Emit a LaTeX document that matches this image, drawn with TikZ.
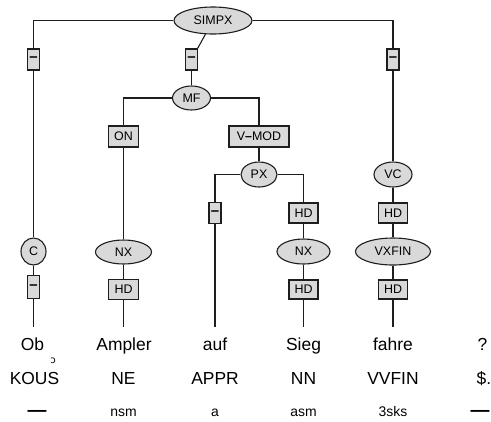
\documentclass[tikz,border=0pt]{standalone}
\usepackage{fontspec}
\setmainfont{Liberation Sans}
\newfontfamily\ipafont{DejaVu Sans}
\usetikzlibrary{shapes.geometric}
\definecolor{fillc}{HTML}{D9D9D9}
\definecolor{linec}{HTML}{1E1E1E}
\newcommand\lab{\fontsize{12.5}{14}\selectfont}
\newcommand\wrd{\fontsize{17.5}{19}\selectfont}
\newcommand\mrph{\fontsize{14}{16}\selectfont}
\newcommand\dsh{{\fontsize{15}{15}\selectfont\bfseries –}}
\tikzset{
  cat/.style={ellipse, draw=linec, fill=fillc, line width=1.1bp, inner sep=0pt, font=\lab},
  fn/.style={rectangle, draw=linec, fill=fillc, line width=1.1bp, inner sep=0pt, font=\lab},
  edge/.style={draw=linec, line width=1.1bp},
  word/.style={anchor=base, inner sep=0pt, font=\wrd},
  mtag/.style={anchor=base, inner sep=0pt, font=\mrph}
}
\begin{document}
\begin{tikzpicture}[x=1bp,y=-1bp]
\path[use as bounding box, fill=white] (0,0) rectangle (491,421);
% categories
\node[cat, minimum width=78bp, minimum height=27bp] (simpx) at (213,20.5) {SIMPX};
\node[cat, minimum width=38bp, minimum height=24bp] (mf) at (191.5,98) {MF};
\node[cat, minimum width=36bp, minimum height=25bp] (px) at (259,174.5) {PX};
\node[cat, minimum width=38bp, minimum height=25bp] (vc) at (393,174.5) {VC};
\node[cat, minimum width=25bp, minimum height=27bp] (c) at (33.5,251.5) {C};
\node[cat, minimum width=56bp, minimum height=24bp] (nx1) at (123.5,252) {NX};
\node[cat, minimum width=53bp, minimum height=25bp] (nx2) at (303.5,251.5) {NX};
\node[cat, minimum width=75bp, minimum height=27bp] (vxfin) at (393,251.5) {VXFIN};
% functions
\node[fn, minimum width=12bp, minimum height=21bp] (d1) at (33.5,59.5) {\dsh};
\node[fn, minimum width=12bp, minimum height=21bp] (d2) at (191.5,59.5) {\dsh};
\node[fn, minimum width=12bp, minimum height=21bp] (d3) at (393,59.5) {\dsh};
\node[fn, minimum width=30bp, minimum height=21bp] (on) at (123.5,136.5) {ON};
\node[fn, minimum width=60bp, minimum height=21bp] (vmod) at (259,136.5) {V{\bfseries –}MOD};
\node[fn, minimum width=12bp, minimum height=21bp] (d5) at (215,213) {\dsh};
\node[fn, minimum width=29bp, minimum height=20bp] (hd1) at (303.5,213) {HD};
\node[fn, minimum width=29bp, minimum height=20bp] (hd2) at (393,213) {HD};
\node[fn, minimum width=12bp, minimum height=23bp] (d4) at (33.5,287) {\dsh};
\node[fn, minimum width=30bp, minimum height=20bp] (hd3) at (123.5,289.5) {HD};
\node[fn, minimum width=29bp, minimum height=19bp] (hd4) at (303.5,289.5) {HD};
\node[fn, minimum width=29bp, minimum height=19bp] (hd5) at (393,289.5) {HD};
% leaf ends
\coordinate (t1) at (33.5,327);
\coordinate (t2) at (123.5,327);
\coordinate (t3) at (215,327);
\coordinate (t4) at (303.5,327);
\coordinate (t5) at (393,327);
% edges
\path[edge] (simpx.west) -| (d1.north);
\path[edge] (d1) -- (c);
\path[edge] (c) -- (d4);
\path[edge] (d4) -- (t1);
\path[edge] (simpx) -- (d2);
\path[edge] (d2) -- (mf);
\path[edge] (simpx.east) -| (d3.north);
\path[edge] (d3) -- (vc);
\path[edge] (vc) -- (hd2);
\path[edge] (hd2) -- (vxfin);
\path[edge] (vxfin) -- (hd5);
\path[edge] (hd5) -- (t5);
\path[edge] (mf.west) -| (on.north);
\path[edge] (on) -- (nx1);
\path[edge] (nx1) -- (hd3);
\path[edge] (hd3) -- (t2);
\path[edge] (mf.east) -| (vmod.north);
\path[edge] (vmod) -- (px);
\path[edge] (px.west) -| (d5.north);
\path[edge] (d5) -- (t3);
\path[edge] (px.east) -| (hd1.north);
\path[edge] (hd1) -- (nx2);
\path[edge] (nx2) -- (hd4);
\path[edge] (hd4) -- (t4);
% words
\node[word] (w1) at (32.5,350) {Ob};
\node[word] (w2) at (124,350) {Ampler};
\node[word] (w3) at (215,350) {auf};
\node[word] (w4) at (303.5,350) {Sieg};
\node[word] (w5) at (393,350) {fahre};
\node[word] (w6) at (482.5,350) {?};
\node[anchor=center, inner sep=0pt, font=\ipafont\fontsize{10}{11}\selectfont] (mark) at (53,360.5) {ɔ};
% POS tags
\node[word] (p1) at (34.5,384) {KOUS};
\node[word] (p2) at (123.5,384) {NE};
\node[word] (p3) at (215,384) {APPR};
\node[word] (p4) at (303.5,384) {NN};
\node[word] (p5) at (393,384) {VVFIN};
\node[word] (p6) at (484,384) {\$.};
% morphology
\node[mtag, font=\fontsize{19}{20}\selectfont\bfseries] (m1) at (37,416.5) {—};
\node[mtag] (m2) at (123.5,416.5) {nsm};
\node[mtag] (m3) at (215,416.5) {a};
\node[mtag] (m4) at (303.5,416.5) {asm};
\node[mtag] (m5) at (393,416.5) {3sks};
\node[mtag, font=\fontsize{19}{20}\selectfont\bfseries] (m6) at (480,416.5) {—};
\end{tikzpicture}
\end{document}
